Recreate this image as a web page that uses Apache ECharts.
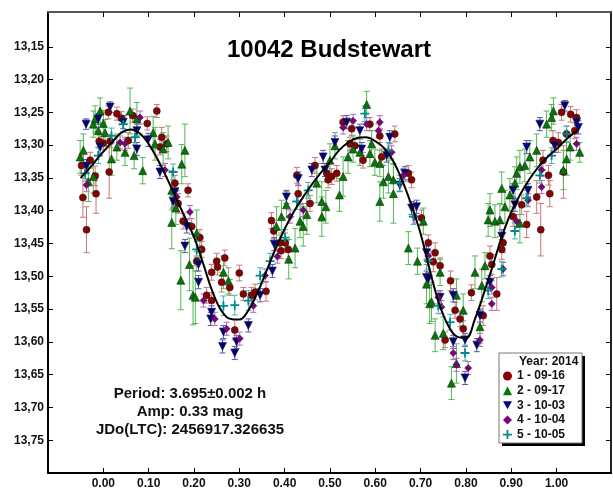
<!DOCTYPE html>
<html><head><meta charset="utf-8">
<script src="https://cdn.jsdelivr.net/npm/echarts@6/dist/echarts.min.js"></script>
<style>html,body{margin:0;padding:0;background:#fff}#c{width:613px;height:490px}</style>
</head><body><div id="c"></div>
<script>
const titleText = '10042 Budstewart';
const statLines = ['Period: 3.695\u00b10.002 h', 'Amp: 0.33 mag', 'JDo(LTC): 2456917.326635'];
const legendTitle = 'Year: 2014';
const seriesNames = ['1 - 09-16', '2 - 09-17', '3 - 10-03', '4 - 10-04', '5 - 10-05'];
const xTicks = [0.0, 0.1, 0.2, 0.3, 0.4, 0.5, 0.6, 0.7, 0.8, 0.9, 1.0];
const yTicks = [13.15, 13.20, 13.25, 13.30, 13.35, 13.40, 13.45, 13.50, 13.55, 13.60, 13.65, 13.70, 13.75];

// [phase, mag, error]
const s1 = [[-0.048,13.331,0.015],[-0.045,13.380,0.030],[-0.037,13.429,0.035],[-0.029,13.323,0.012],[-0.018,13.347,0.015],[-0.016,13.374,0.030],[-0.009,13.294,0.010],[0.000,13.297,0.010],[0.011,13.250,0.010],[0.013,13.341,0.040],[0.015,13.294,0.010],[0.030,13.252,0.010],[0.040,13.259,0.010],[0.055,13.293,0.012],[0.065,13.255,0.010],[0.097,13.267,0.010],[0.118,13.248,0.010],[0.125,13.303,0.012],[0.129,13.288,0.015],[0.140,13.298,0.012],[0.158,13.358,0.012],[0.165,13.389,0.015],[0.176,13.416,0.012],[0.187,13.369,0.010],[0.195,13.424,0.012],[0.206,13.477,0.015],[0.213,13.441,0.012],[0.217,13.459,0.012],[0.228,13.529,0.012],[0.239,13.494,0.012],[0.239,13.537,0.012],[0.250,13.477,0.012],[0.252,13.486,0.012],[0.261,13.509,0.015],[0.268,13.472,0.012],[0.279,13.517,0.012],[0.290,13.582,0.015],[0.300,13.495,0.012],[0.309,13.527,0.010],[0.327,13.529,0.012],[0.335,13.524,0.012],[0.359,13.523,0.015],[0.371,13.415,0.012],[0.376,13.431,0.012],[0.390,13.449,0.012],[0.392,13.461,0.012],[0.401,13.449,0.015],[0.408,13.459,0.015],[0.427,13.346,0.012],[0.430,13.374,0.012],[0.456,13.389,0.012],[0.467,13.331,0.012],[0.493,13.343,0.012],[0.496,13.353,0.012],[0.504,13.348,0.012],[0.515,13.343,0.012],[0.529,13.265,0.010],[0.544,13.298,0.010],[0.548,13.275,0.010],[0.555,13.301,0.010],[0.573,13.323,0.012],[0.588,13.268,0.010],[0.610,13.286,0.010],[0.614,13.318,0.012],[0.643,13.283,0.012],[0.673,13.343,0.012],[0.680,13.353,0.012],[0.702,13.411,0.012],[0.717,13.449,0.012],[0.728,13.478,0.015],[0.732,13.464,0.015],[0.743,13.484,0.012],[0.754,13.597,0.012],[0.766,13.507,0.015],[0.776,13.552,0.012],[0.787,13.565,0.012],[0.794,13.580,0.012],[0.812,13.525,0.012],[0.838,13.560,0.015],[0.853,13.469,0.015],[0.857,13.482,0.015],[0.868,13.527,0.025],[0.879,13.459,0.015],[0.882,13.449,0.015],[0.904,13.409,0.015],[0.923,13.391,0.015],[0.934,13.421,0.020],[0.956,13.379,0.025],[0.965,13.429,0.040],[0.970,13.323,0.015],[0.982,13.346,0.015],[0.985,13.374,0.020],[0.992,13.293,0.015],[1.004,13.296,0.015],[1.011,13.250,0.012],[1.015,13.341,0.040],[1.022,13.283,0.012],[1.031,13.253,0.012],[1.040,13.278,0.012],[1.044,13.258,0.012]];
const s2 = [[-0.051,13.318,0.025],[-0.044,13.308,0.025],[-0.033,13.356,0.030],[-0.022,13.268,0.020],[-0.022,13.348,0.025],[-0.018,13.260,0.020],[-0.011,13.278,0.025],[-0.007,13.248,0.020],[0.000,13.267,0.020],[0.004,13.281,0.020],[0.018,13.321,0.025],[0.030,13.303,0.020],[0.048,13.311,0.020],[0.059,13.248,0.035],[0.068,13.316,0.020],[0.074,13.260,0.025],[0.087,13.339,0.020],[0.110,13.281,0.025],[0.114,13.298,0.025],[0.132,13.306,0.025],[0.143,13.296,0.025],[0.151,13.369,0.030],[0.151,13.418,0.040],[0.160,13.396,0.025],[0.173,13.329,0.030],[0.180,13.308,0.040],[0.171,13.506,0.045],[0.190,13.482,0.040],[0.198,13.529,0.045],[0.203,13.532,0.040],[0.206,13.434,0.035],[0.265,13.494,0.025],[0.276,13.507,0.020],[0.382,13.424,0.030],[0.393,13.409,0.025],[0.404,13.391,0.020],[0.409,13.474,0.030],[0.423,13.457,0.030],[0.434,13.416,0.025],[0.441,13.424,0.030],[0.449,13.406,0.030],[0.471,13.358,0.030],[0.482,13.386,0.030],[0.482,13.409,0.030],[0.491,13.394,0.025],[0.500,13.323,0.025],[0.511,13.301,0.020],[0.521,13.376,0.025],[0.529,13.348,0.030],[0.540,13.318,0.025],[0.551,13.306,0.020],[0.566,13.311,0.020],[0.581,13.238,0.020],[0.588,13.313,0.020],[0.592,13.298,0.020],[0.599,13.326,0.020],[0.610,13.328,0.020],[0.610,13.386,0.030],[0.618,13.356,0.025],[0.629,13.348,0.025],[0.640,13.353,0.025],[0.640,13.374,0.045],[0.673,13.457,0.025],[0.693,13.477,0.020],[0.706,13.416,0.020],[0.713,13.512,0.030],[0.720,13.542,0.030],[0.724,13.539,0.030],[0.732,13.590,0.025],[0.743,13.494,0.020],[0.750,13.587,0.025],[0.768,13.663,0.025],[0.779,13.633,0.030],[0.779,13.529,0.025],[0.794,13.552,0.025],[0.820,13.494,0.025],[0.831,13.577,0.025],[0.835,13.514,0.025],[0.842,13.484,0.020],[0.849,13.414,0.025],[0.853,13.399,0.025],[0.864,13.416,0.025],[0.875,13.414,0.025],[0.879,13.366,0.025],[0.886,13.394,0.025],[0.897,13.376,0.025],[0.908,13.358,0.025],[0.912,13.343,0.025],[0.919,13.333,0.025],[0.919,13.419,0.030],[0.930,13.331,0.025],[0.941,13.318,0.025],[0.956,13.308,0.025],[0.978,13.268,0.020],[0.989,13.258,0.020],[0.993,13.248,0.020],[1.015,13.338,0.030],[1.022,13.321,0.025],[1.030,13.303,0.020],[1.051,13.311,0.015]];
const s3 = [[-0.038,13.268,0.008],[-0.037,13.332,0.010],[-0.011,13.260,0.008],[-0.007,13.303,0.010],[0.015,13.242,0.008],[0.044,13.265,0.010],[0.074,13.278,0.010],[0.074,13.306,0.010],[0.099,13.292,0.010],[0.125,13.341,0.010],[0.154,13.386,0.010],[0.158,13.371,0.010],[0.180,13.454,0.010],[0.184,13.424,0.010],[0.210,13.482,0.010],[0.210,13.509,0.010],[0.237,13.565,0.010],[0.239,13.555,0.010],[0.263,13.607,0.010],[0.265,13.585,0.010],[0.290,13.617,0.010],[0.294,13.600,0.010],[0.320,13.575,0.010],[0.346,13.529,0.010],[0.373,13.492,0.010],[0.377,13.451,0.010],[0.404,13.379,0.010],[0.430,13.351,0.010],[0.460,13.338,0.010],[0.485,13.318,0.010],[0.489,13.338,0.010],[0.511,13.296,0.010],[0.537,13.265,0.010],[0.566,13.278,0.010],[0.570,13.306,0.010],[0.625,13.316,0.010],[0.632,13.288,0.010],[0.654,13.361,0.010],[0.665,13.343,0.010],[0.680,13.396,0.010],[0.691,13.394,0.010],[0.713,13.464,0.010],[0.713,13.502,0.010],[0.717,13.504,0.010],[0.743,13.532,0.010],[0.772,13.529,0.010],[0.772,13.600,0.010],[0.798,13.597,0.010],[0.798,13.655,0.010],[0.824,13.605,0.010],[0.831,13.560,0.010],[0.853,13.509,0.010],[0.879,13.439,0.010],[0.904,13.369,0.010],[0.908,13.391,0.010],[0.934,13.303,0.010],[0.937,13.369,0.010],[0.963,13.268,0.010],[0.996,13.301,0.010],[1.018,13.240,0.008],[1.044,13.265,0.010],[1.048,13.273,0.010]];
const s4 = [[-0.037,13.361,0.010],[0.037,13.296,0.010],[0.048,13.298,0.010],[0.081,13.258,0.010],[0.136,13.338,0.010],[0.162,13.379,0.010],[0.191,13.402,0.010],[0.221,13.537,0.010],[0.246,13.565,0.010],[0.272,13.580,0.010],[0.301,13.595,0.010],[0.331,13.545,0.010],[0.357,13.499,0.010],[0.384,13.470,0.010],[0.412,13.409,0.010],[0.441,13.399,0.010],[0.529,13.273,0.010],[0.551,13.263,0.010],[0.581,13.268,0.010],[0.607,13.278,0.010],[0.610,13.265,0.010],[0.636,13.311,0.010],[0.662,13.346,0.010],[0.687,13.409,0.010],[0.717,13.469,0.010],[0.739,13.532,0.010],[0.746,13.547,0.010],[0.772,13.617,0.010],[0.779,13.635,0.010],[0.805,13.640,0.010],[0.831,13.597,0.010],[0.857,13.517,0.010],[0.857,13.542,0.010],[0.882,13.489,0.010],[0.912,13.416,0.010],[0.937,13.384,0.010],[0.967,13.338,0.010],[0.967,13.364,0.010],[1.044,13.298,0.010]];
const s5 = [[-0.040,13.343,0.012],[-0.011,13.316,0.012],[0.018,13.286,0.012],[0.044,13.268,0.012],[0.070,13.288,0.012],[0.154,13.341,0.012],[0.206,13.459,0.012],[0.265,13.545,0.015],[0.290,13.544,0.015],[0.320,13.537,0.015],[0.346,13.499,0.012],[0.368,13.477,0.012],[0.401,13.441,0.012],[0.427,13.386,0.012],[0.452,13.369,0.012],[0.577,13.252,0.012],[0.629,13.308,0.012],[0.654,13.358,0.012],[0.684,13.409,0.012],[0.717,13.477,0.012],[0.739,13.545,0.012],[0.765,13.570,0.012],[0.798,13.617,0.012],[0.849,13.522,0.012],[0.879,13.489,0.012],[0.908,13.431,0.012],[0.934,13.381,0.012],[0.963,13.346,0.012],[0.989,13.316,0.012],[1.022,13.283,0.012]];
// fitted curve: [phase, mag]
const fitCurve = [[-0.05,13.350],[-0.03,13.335],[-0.01,13.318],[0.00,13.310],[0.02,13.295],[0.04,13.281],[0.06,13.276],[0.08,13.282],[0.10,13.298],[0.12,13.322],[0.14,13.350],[0.16,13.380],[0.18,13.410],[0.20,13.440],[0.22,13.480],[0.24,13.522],[0.26,13.552],[0.28,13.565],[0.30,13.566],[0.32,13.552],[0.34,13.525],[0.36,13.492],[0.38,13.458],[0.40,13.428],[0.42,13.402],[0.44,13.380],[0.46,13.360],[0.48,13.342],[0.50,13.326],[0.52,13.308],[0.54,13.296],[0.56,13.289],[0.58,13.288],[0.60,13.294],[0.62,13.305],[0.64,13.325],[0.66,13.355],[0.68,13.392],[0.70,13.435],[0.72,13.490],[0.74,13.540],[0.76,13.574],[0.78,13.592],[0.80,13.594],[0.82,13.565],[0.84,13.525],[0.86,13.482],[0.88,13.438],[0.90,13.402],[0.92,13.375],[0.94,13.352],[0.96,13.333],[0.98,13.318],[1.00,13.306],[1.02,13.292],[1.045,13.278]];

const allData = [s1, s2, s3, s4, s5];
const markColors = ['#8b0000', '#007a00', '#000080', '#800080', '#008b8b'];
const barColors = ['#cc7777', '#55b855', '#5555bb', '#bb66bb', '#44b4b4'];
const symbols = ['circle', 'triangle', 'path://M0,0 L10,0 L5,9 Z', 'diamond', 'path://M4,0 L6,0 L6,4 L10,4 L10,6 L6,6 L6,10 L4,10 L4,6 L0,6 L0,4 L4,4 Z'];
const sizes = [7, 8, 8, 7, 9];

const chart = echarts.init(document.getElementById('c'), null, {renderer: 'canvas'});
const FONT = '"Liberation Sans", Arial, sans-serif';

const series = [];
allData.forEach((d, i) => {
  const bc = barColors[i];
  series.push({
    type: 'custom', name: 'err' + i, data: d, encode: {x: 0, y: 1}, z: 1,
    silent: true,
    renderItem: function (params, api) {
      const x = api.value(0), y = api.value(1), e = api.value(2);
      const p1 = api.coord([x, y - e]), p2 = api.coord([x, y + e]);
      const w = 3;
      return {type: 'group', children: [
        {type: 'line', shape: {x1: p1[0], y1: p1[1], x2: p2[0], y2: p2[1]}, style: {stroke: bc, lineWidth: 1}},
        {type: 'line', shape: {x1: p1[0] - w, y1: p1[1], x2: p1[0] + w, y2: p1[1]}, style: {stroke: bc, lineWidth: 1}},
        {type: 'line', shape: {x1: p2[0] - w, y1: p2[1], x2: p2[0] + w, y2: p2[1]}, style: {stroke: bc, lineWidth: 1}}
      ]};
    }
  });
});
allData.forEach((d, i) => {
  series.push({
    type: 'scatter', name: seriesNames[i], data: d.map(p => [p[0], p[1]]),
    symbol: symbols[i], symbolSize: sizes[i], z: 2 + i * 0.01,
    itemStyle: {color: markColors[i], borderColor: i === 4 ? markColors[i] : '#222', borderWidth: i === 4 ? 0 : 0.6, opacity: 1}
  });
});
series.push({
  type: 'line', name: 'fit', data: fitCurve, smooth: 0.4, showSymbol: false, symbol: 'none', z: 5,
  lineStyle: {color: '#000', width: 2}, silent: true
});

const axisCommon = {
  splitLine: {show: false},
  axisLine: {show: true, onZero: false, lineStyle: {color: '#000', width: 2}},
};
const Y_MIN = 13.097, Y_MAX = 13.80;

const option = {
  animation: false,
  backgroundColor: '#fff',
  grid: {left: 48, top: 12, right: 2, bottom: 14, containLabel: false},
  xAxis: [
    Object.assign({}, axisCommon, {
      type: 'value', position: 'bottom', min: -0.122, max: 1.12,
      axisTick: {show: true, inside: true, length: 5, customValues: xTicks, lineStyle: {color: '#000', width: 1}},
      axisLabel: {show: true, customValues: xTicks, formatter: v => v.toFixed(2), margin: 5,
        fontFamily: FONT, fontWeight: 'bold', fontSize: 12, color: '#111'}
    }),
    Object.assign({}, axisCommon, {
      type: 'value', position: 'top', min: -0.122, max: 1.12,
      axisLine: {show: true, onZero: false, lineStyle: {color: '#555', width: 2}},
      axisTick: {show: true, inside: true, length: 5, customValues: xTicks, lineStyle: {color: '#000', width: 1}},
      axisLabel: {show: false}
    })
  ],
  yAxis: [
    Object.assign({}, axisCommon, {
      type: 'value', position: 'left', inverse: true, min: Y_MIN, max: Y_MAX,
      axisTick: {show: true, inside: true, length: 5, customValues: yTicks, lineStyle: {color: '#000', width: 1}},
      axisLabel: {show: true, customValues: yTicks, formatter: v => v.toFixed(2).replace('.', ','), margin: 4,
        fontFamily: FONT, fontWeight: 'bold', fontSize: 12, color: '#111'}
    }),
    Object.assign({}, axisCommon, {
      type: 'value', position: 'right', inverse: true, min: Y_MIN, max: Y_MAX,
      axisLine: {show: true, onZero: false, lineStyle: {color: '#222', width: 2}},
      axisTick: {show: true, inside: true, length: 5, customValues: yTicks, lineStyle: {color: '#000', width: 1}},
      axisLabel: {show: false}
    })
  ],
  legend: {
    data: seriesNames, orient: 'vertical', left: 503, top: 370, itemWidth: 9, itemHeight: 9, itemGap: 2.65,
    z: 10, selectedMode: false, padding: 0,
    textStyle: {fontFamily: FONT, fontWeight: 'bold', fontSize: 12, color: '#111'},
    itemStyle: {borderWidth: 0}
  },
  graphic: [
    {type: 'text', x: 329, y: 50, z: 10, style: {text: titleText, textAlign: 'center', textVerticalAlign: 'middle', font: 'bold 24px ' + FONT, fill: '#000'}},
    {type: 'text', x: 190, y: 394, z: 10, style: {text: statLines[0], textAlign: 'center', textVerticalAlign: 'middle', font: 'bold 15px ' + FONT, fill: '#111'}},
    {type: 'text', x: 190, y: 412, z: 10, style: {text: statLines[1], textAlign: 'center', textVerticalAlign: 'middle', font: 'bold 15px ' + FONT, fill: '#111'}},
    {type: 'text', x: 190, y: 430, z: 10, style: {text: statLines[2], textAlign: 'center', textVerticalAlign: 'middle', font: 'bold 15px ' + FONT, fill: '#111'}},
    {type: 'rect', z: 8, shape: {x: 502, y: 356, width: 83, height: 90}, style: {fill: '#000'}},
    {type: 'rect', z: 9, shape: {x: 499, y: 353, width: 83, height: 90}, style: {fill: '#fff', stroke: '#777', lineWidth: 1}},
    {type: 'text', x: 519, y: 362, z: 10, style: {text: legendTitle, textAlign: 'left', textVerticalAlign: 'middle', font: 'bold 12px ' + FONT, fill: '#111'}}
  ],
  series: series
};
chart.setOption(option);
</script>
</body></html>
